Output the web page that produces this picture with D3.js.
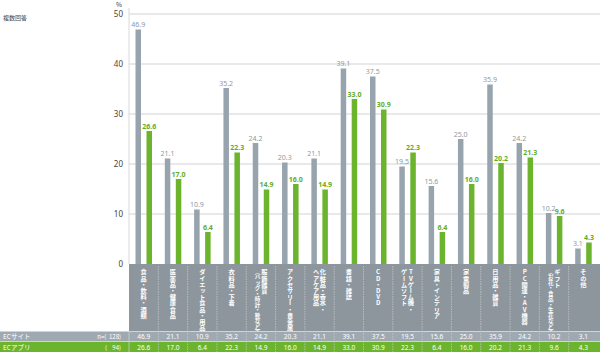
<!DOCTYPE html>
<html><head><meta charset="utf-8">
<script src="https://cdn.jsdelivr.net/npm/d3@7"></script>
<style>
body{margin:0;background:#fff;}
svg{font-family:"Noto Sans CJK JP","Noto Sans",sans-serif;display:block;}
.vt{writing-mode:vertical-rl;text-orientation:upright;}
</style></head>
<body><svg id="c" width="600" height="354"></svg>
<script>
const categories = [
  ["食品・飲料・酒類"],
  ["医薬品・健康食品"],
  ["ダイエット食品・用品"],
  ["衣料品・下着"],
  ["服飾雑貨","（バッグ・時計・靴など）"],
  ["アクセサリー・貴金属"],
  ["化粧品・香水・","ヘアケア用品"],
  ["書籍・雑誌"],
  ["CD・DVD"],
  ["TVゲーム機・","ゲームソフト"],
  ["家具・インテリア"],
  ["家電製品"],
  ["日用品・雑貨"],
  ["PC関連・AV機器"],
  ["ギフト","（お花・食品・生花など）"],
  ["その他"]
];
const ecSite = [46.9,21.1,10.9,35.2,24.2,20.3,21.1,39.1,37.5,19.5,15.6,25.0,35.9,24.2,10.2,3.1];
const ecApp  = [26.6,17.0,6.4,22.3,14.9,16.0,14.9,33.0,30.9,22.3,6.4,16.0,20.2,21.3,9.6,4.3];
const seriesNames = ["ECサイト","ECアプリ"];
const seriesN = ["n=(  128)","(    94)"];
const yTicks = [0,10,20,30,40,50];

const svg = d3.select("#c");
const greyC = "#97a4ae", greenC = "#6cb42d";
const x = d3.scaleBand().domain(d3.range(categories.length)).range([129,598]);
const sub = d3.scaleBand().domain([0,1]).range([6.5,23]).paddingInner(0.5);
const y = d3.scaleLinear().domain([0,50]).range([264,14]);

// grid
svg.append("g").selectAll("line").data(yTicks.filter(d=>d>0)).join("line")
  .attr("x1",129).attr("x2",600).attr("y1",d=>y(d)).attr("y2",d=>y(d))
  .attr("stroke","#e2e2e2").attr("stroke-width",1.5);
svg.append("line").attr("x1",129).attr("x2",129).attr("y1",8).attr("y2",264)
  .attr("stroke","#d8d8d8").attr("stroke-width",1);

// y axis labels
const ya = svg.append("g").attr("transform","translate(123,0)")
  .call(d3.axisLeft(y).tickValues(yTicks).tickSize(0).tickPadding(0));
ya.select(".domain").remove();
ya.selectAll("text").attr("font-size",8).attr("fill","#444").attr("font-family","'Noto Sans',sans-serif");
svg.append("text").attr("x",122).attr("y",6.5).attr("text-anchor","end").attr("font-size",6.5).attr("fill","#444").text("%");
svg.append("text").attr("x",3).attr("y",20).attr("font-size",6).attr("fill","#444").text("複数回答");

// label area
svg.append("rect").attr("x",129).attr("y",264).attr("width",471).attr("height",67).attr("fill","#8e969d");
// table rows
svg.append("rect").attr("x",0).attr("y",331.5).attr("width",600).attr("height",10).attr("fill","#9fa9b2");
svg.append("rect").attr("x",0).attr("y",342).attr("width",600).attr("height",10).attr("fill",greenC);

// separators
svg.append("g").selectAll("line").data(d3.range(1,categories.length)).join("line")
  .attr("x1",d=>x(d)).attr("x2",d=>x(d)).attr("y1",266).attr("y2",352)
  .attr("stroke","#c9cdd1").attr("stroke-width",0.7).attr("stroke-dasharray","1.5,1");
svg.append("line").attr("x1",129).attr("x2",129).attr("y1",331).attr("y2",352).attr("stroke","#d0d4d8").attr("stroke-width",0.7);

// bars
const data = categories.map((c,i)=>({i, vals:[ecSite[i],ecApp[i]]}));
const gcat = svg.append("g").selectAll("g").data(data).join("g").attr("transform",d=>`translate(${x(d.i)},0)`);
gcat.selectAll("rect").data(d=>d.vals.map((v,k)=>({v,k}))).join("rect")
  .attr("x",d=>sub(d.k)).attr("width",sub.bandwidth())
  .attr("y",d=>y(d.v)).attr("height",d=>y(0)-y(d.v))
  .attr("fill",d=>d.k===0?greyC:greenC);
gcat.selectAll("text.val").data(d=>d.vals.map((v,k)=>({v,k}))).join("text").attr("class","val")
  .attr("x",d=>sub(d.k)+sub.bandwidth()/2).attr("y",d=>y(d.v)-2.5)
  .attr("text-anchor","middle").attr("font-size",7)
  .attr("font-family","'Noto Sans',sans-serif")
  .attr("font-weight",d=>d.k===1?"bold":"normal")
  .attr("fill",d=>d.k===0?"#8d9aa5":"#5fae1f")
  .text(d=>d.v.toFixed(1));

// category labels vertical
gcat.each(function(d){
  const lines = categories[d.i];
  const g = d3.select(this);
  const n = lines.length, gap = 6.8;
  lines.forEach((t,j)=>{
    const cx = x.bandwidth()/2 + ((n-1)/2 - j)*gap;
    const fs = t.length > 10 ? 5.5 : 6.2;
    g.append("text").attr("class","vt").attr("x",cx).attr("y",269)
      .attr("font-size",fs).attr("fill","#fff").attr("font-weight","bold").text(t);
  });
});

// table text
const rows = [ecSite, ecApp];
rows.forEach((r,k)=>{
  const yy = k===0?339.3:349.8;
  svg.append("text").attr("x",3).attr("y",yy).attr("font-size",6.5).attr("fill","#fff").text(seriesNames[k]);
  svg.append("text").attr("x",121).attr("y",yy).attr("text-anchor","end").attr("font-size",6).attr("fill","#fff")
    .attr("xml:space","preserve").style("white-space","pre").text(seriesN[k]);
  svg.append("g").selectAll("text").data(r).join("text")
    .attr("x",(d,i)=>x(i)+x.bandwidth()/2).attr("y",yy).attr("text-anchor","middle")
    .attr("font-size",6.5).attr("fill","#fff").attr("font-family","'Noto Sans',sans-serif")
    .text(d=>d.toFixed(1));
});
</script></body></html>
